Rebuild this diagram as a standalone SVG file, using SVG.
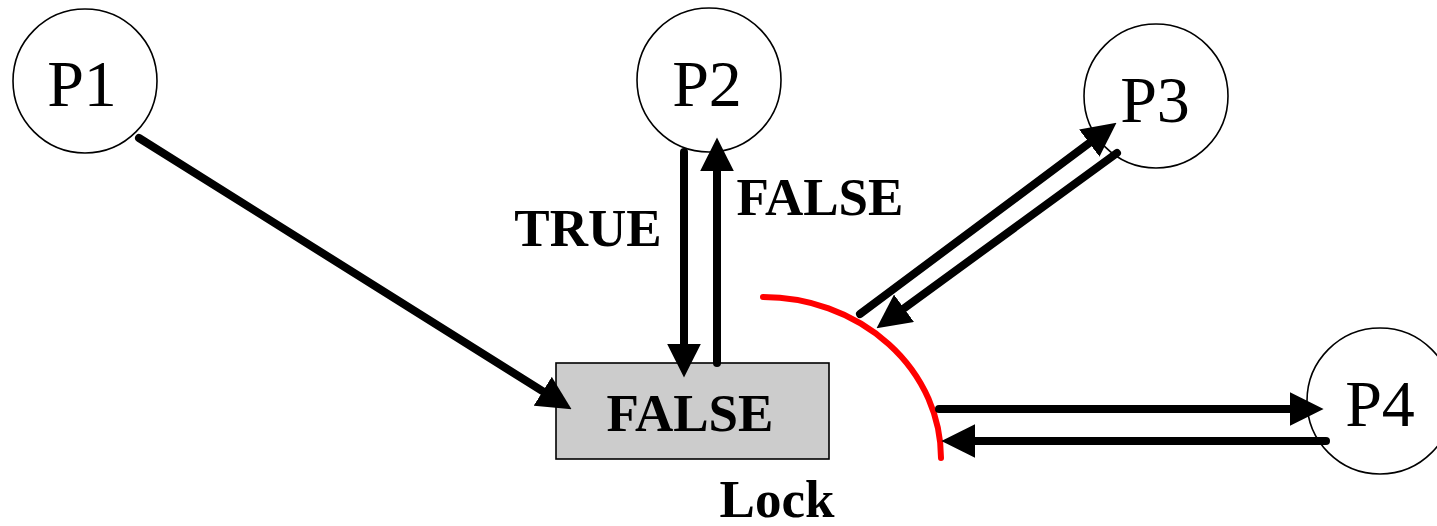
<svg xmlns="http://www.w3.org/2000/svg" width="1437" height="526" viewBox="0 0 1437 526">
  <style>
    .proc { fill: #ffffff; stroke: #000000; stroke-width: 1.6; }
    .plabel { font-family: "Liberation Serif", "Times New Roman", serif; font-size: 66px; fill: #000000; text-anchor: middle; }
    .blabel { font-family: "Liberation Serif", "Times New Roman", serif; font-size: 53px; font-weight: bold; fill: #000000; text-anchor: middle; }
    .lock { fill: #cccccc; stroke: #000000; stroke-width: 1.6; }
    .conn { fill: none; stroke: #000000; stroke-width: 8; stroke-linecap: round; marker-end: url(#head); }
    .barrier { fill: none; stroke: #ff0000; stroke-width: 6; stroke-linecap: round; }
  </style>
  <defs>
    <marker id="head" markerUnits="userSpaceOnUse" markerWidth="34" markerHeight="34" viewBox="0 0 33 33" refX="13" refY="16.5" orient="auto">
      <path d="M0,0 L33,16.5 L0,33 Z" fill="#000000"/>
    </marker>
  </defs>

  <rect width="1437" height="526" fill="#ffffff"/>

  <!-- processes -->
  <g id="p1">
    <circle class="proc" cx="85" cy="81" r="72"/>
    <text class="plabel" x="82" y="106">P1</text>
  </g>
  <g id="p2">
    <circle class="proc" cx="709" cy="80" r="72"/>
    <text class="plabel" x="707" y="106">P2</text>
  </g>
  <g id="p3">
    <circle class="proc" cx="1156" cy="96" r="72"/>
    <text class="plabel" x="1155" y="122">P3</text>
  </g>
  <g id="p4">
    <circle class="proc" cx="1380" cy="401" r="73"/>
    <text class="plabel" x="1380" y="426">P4</text>
  </g>

  <!-- shared lock variable -->
  <g id="lock">
    <rect class="lock" x="556" y="363" width="273" height="96"/>
    <text class="blabel" x="690" y="431">FALSE</text>
    <text class="blabel" x="777" y="517">Lock</text>
  </g>

  <!-- red barrier around the lock -->
  <g id="barrier">
    <path class="barrier" d="M763,297 A178,161 0 0 1 941,458"/>
  </g>

  <!-- connectors -->
  <g id="connectors">
    <line class="conn" x1="139" y1="138" x2="554.1" y2="398.4"/>
    <line class="conn" x1="684" y1="152" x2="684" y2="357"/>
    <line class="conn" x1="717" y1="363" x2="717" y2="158"/>
    <line class="conn" x1="860" y1="314" x2="1100" y2="135"/>
    <line class="conn" x1="1117" y1="153" x2="893.2" y2="316.2"/>
    <line class="conn" x1="939" y1="409" x2="1303" y2="409"/>
    <line class="conn" x1="1326" y1="441" x2="962" y2="441"/>
  </g>

  <!-- connector labels -->
  <g id="labels">
    <text class="blabel" x="588" y="246">TRUE</text>
    <text class="blabel" x="820" y="215">FALSE</text>
  </g>
</svg>
